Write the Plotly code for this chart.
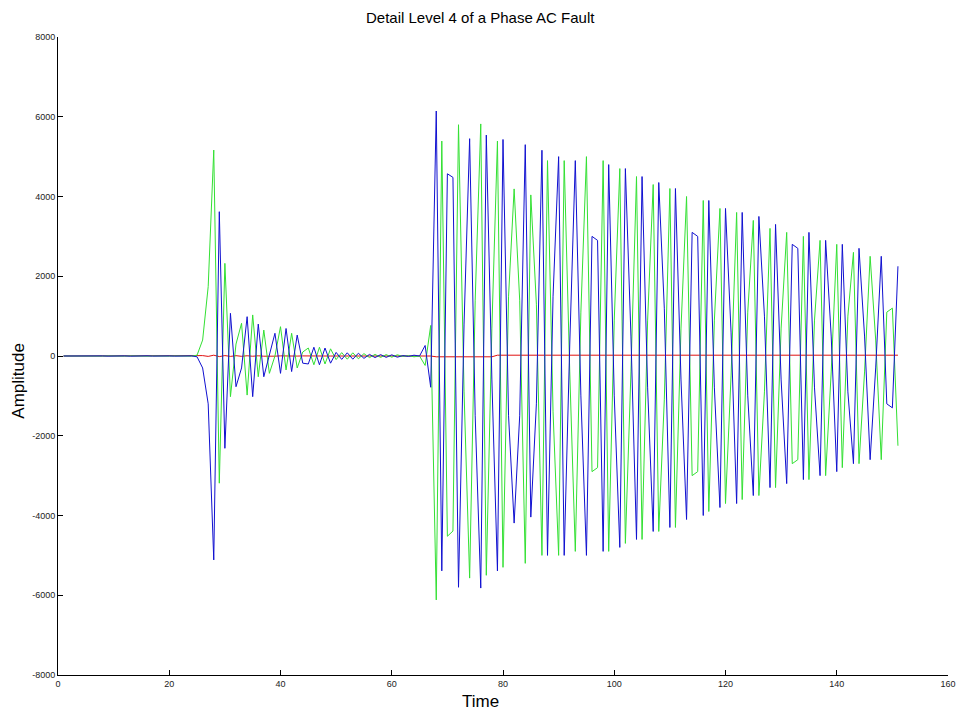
import plotly.graph_objects as go

time = list(range(1, 152))

blue = [0, 2, -3, 4, -2, 3, -4, 2, -3, 5, -2, 3, -4, 2, -3, 4, -2, 3, -4, 2, -3, 5, -4, 3,
        -20, -300, -1200, -5114, 3619, -2315, 1070, -770, -300, 986,
        -1020, 800, -520, 0, 570, -435, 690, -390, 525, -180,
        -200, 220, -220, 200, -180, 90, -85, 80, -80, 70,
        -60, 40, -40, 35, -35, 30, -30, 10, -10, 20, 0,
        264, -784, 6144, -5388, 4570, 4480, -5800, 800, 5450, -1500,
        -5820, 5540, -600, -5390, 5430, -1500, -4190, -1500, 5300, -4040,
        -1200, 5160, -5000, 1500, 5000, -5000, 300, 4900, -1000, -5000,
        3000, 2900, -4900, 4800, -1000, -4800, 4700, 500, -4600, 4500,
        -800, -4400, 4350, 1200, -4300, 4200, -600, -4100, 3100, 3000,
        -4000, 3900, -800, -3800, 3700, 600, -3700, 3600, -1000, -3500,
        3500, 1000, -3300, 3300, -600, -3200, 2800, 2700, -3100, 3100,
        -800, -3000, 2900, 500, -2900, 2800, -900, -2700, 2700, 500,
        -2600, -300, 2500, -1200, -1300, 2250]

green = [0, -2, 3, -4, 2, -3, 4, -2, 3, -5, 2, -3, 4, -2, 3, -4, 2, -3, 4, -2, 3, -5, 4, -3,
         20, 400, 1740, 5165, -3190, 2323, -1020, 300, 820, -980,
         1030, -520, 650, -435, 0, 735, -350, 570, -300, 100,
         200, -220, 220, -200, 180, -90, 85, -80, 80, -70,
         60, -40, 40, -35, 35, -30, 30, -10, 10, -20, 0,
         -237, 766, -6117, 5390, -4520, -4390, 5800, -900, -5570, 1400,
         5820, -5500, 700, 5390, -5300, 1500, 4190, 1400, -5200, 4040,
         1300, -5000, 4900, -1400, -5000, 4900, -400, -4900, 1100, 5000,
         -2900, -2800, 4900, -4900, 900, 4700, -4700, -400, 4500, -4600,
         900, 4300, -4400, -1100, 4200, -4300, 700, 4000, -3000, -2900,
         3900, -3900, 900, 3700, -3700, -500, 3600, -3600, 1100, 3400,
         -3500, -900, 3200, -3300, 700, 3100, -2700, -2600, 3000, -3100,
         900, 2900, -3000, -400, 2800, -2800, 1000, 2600, -2700, -400,
         2500, 400, -2600, 1100, 1200, -2250]

red = [0, 0, 0, 0, 0, 0, 0, 0, 0, 0, 0, 0, 0, 0, 0, 0, 0, 0, 0, 0, 0, 0, 0, 0, 5,
       10, -10, 20, -15, 10, -10, 8, -8, 6, -6, 5, -5, 4, -4, 3, -3, 2, -2, 2, -2,
       1, -1, 1, -1, 0, 0, 0, 0, 0, 0, 0, 0, 0, 0, 0, 0, 0, 0, 0, 0, 0, 0,
       -20, -20, -20, -20, -20, -20, -20, -20, -20, -20, -20, 20, 20, 20, 20, 20, 20, 20,
       20, 20, 20, 20, 20, 20, 20, 20, 20, 20, 20, 20, 20, 20, 20, 20, 20, 20, 20, 20,
       20, 20, 20, 20, 20, 20, 20, 20, 20, 20, 20, 20, 20, 20, 20, 20, 20, 20, 20, 20,
       20, 20, 20, 20, 20, 20, 20, 20, 20, 20, 20, 20, 20, 20, 20, 20, 20, 20, 20, 20,
       20, 20, 20, 20, 20, 20, 20, 20, 20, 20, 20, 20]

xticks = [0, 20, 40, 60, 80, 100, 120, 140, 160]
yticks = [-8000, -6000, -4000, -2000, 0, 2000, 4000, 6000, 8000]

fig = go.Figure()
fig.add_trace(go.Scatter(x=time, y=red, mode="lines", line=dict(color="#e01010", width=1)))
fig.add_trace(go.Scatter(x=time, y=green, mode="lines", line=dict(color="#33e033", width=1)))
fig.add_trace(go.Scatter(x=time, y=blue, mode="lines", line=dict(color="#1010d0", width=1)))

axis_common = dict(showline=True, linecolor="black", linewidth=1, ticks="inside", ticklen=5,
                   tickcolor="black", showgrid=False, zeroline=False, mirror=False,
                   tickfont=dict(family="Liberation Sans, Arial", size=9, color="#222222"))

fig.update_layout(
    width=964, height=715,
    margin=dict(l=58, r=8, t=37, b=40),
    paper_bgcolor="white", plot_bgcolor="white",
    showlegend=False,
    xaxis=dict(range=[0, 160], tickvals=xticks, ticktext=[str(v) for v in xticks], **axis_common),
    yaxis=dict(range=[-8000, 8000], tickvals=yticks, ticktext=[str(v) for v in yticks], **axis_common),
    annotations=[
        dict(text="Detail Level 4 of a Phase AC Fault", xref="paper", yref="paper",
             x=0.4744, y=1.0298, xanchor="center", yanchor="middle", showarrow=False,
             font=dict(family="Liberation Sans, Arial", size=15, color="black")),
        dict(text="Time", xref="paper", yref="paper", x=0.4744, y=-0.0423,
             xanchor="center", yanchor="middle", showarrow=False,
             font=dict(family="Liberation Sans, Arial", size=17, color="black")),
        dict(text="Amplitude", xref="paper", yref="paper", x=-0.0445, y=0.462,
             xanchor="center", yanchor="middle", showarrow=False, textangle=-90,
             font=dict(family="Liberation Sans, Arial", size=17, color="black")),
    ],
)

fig.write_html("out.html")
